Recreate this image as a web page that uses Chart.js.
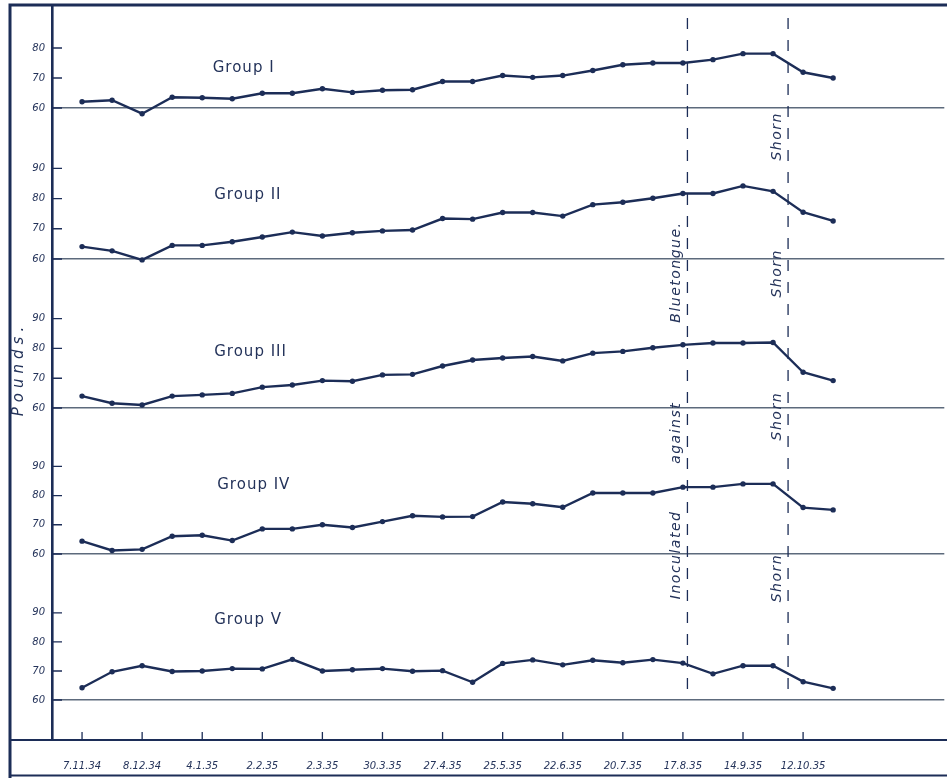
<!DOCTYPE html>
<html>
<head>
<meta charset="utf-8">
<title>Live weights of sheep, Groups I–V</title>
<script src="https://cdn.jsdelivr.net/npm/chart.js@4.4.1/dist/chart.umd.min.js"></script>
<style>
  html, body { margin: 0; padding: 0; background: #ffffff; }
  #wrap { width: 947px; height: 778px; position: relative; }
  canvas { display: block; }
</style>
</head>
<body>
<div id="wrap"><canvas id="weights" width="947" height="778"></canvas></div>
<script>
// Weighing dates printed under the x axis (every second weighing is labelled)
const tickDates = ['7.11.34', '8.12.34', '4.1.35', '2.2.35', '2.3.35', '30.3.35', '27.4.35',
                   '25.5.35', '22.6.35', '20.7.35', '17.8.35', '14.9.35', '12.10.35'];
const tickIndex = [0, 2, 4, 6, 8, 10, 12, 14, 16, 18, 20, 22, 24];

// Mean live weight (lb) at each of the 26 fortnightly weighings
const groupI   = [62.1, 62.6, 58.1, 63.6, 63.4, 63.1, 64.9, 64.9, 66.4, 65.2, 65.9, 66.1, 68.8,
                  68.8, 70.8, 70.2, 70.8, 72.5, 74.4, 75.0, 75.0, 76.1, 78.1, 78.1, 71.9, 70.0];
const groupII  = [64.1, 62.7, 59.7, 64.5, 64.5, 65.7, 67.3, 68.9, 67.6, 68.7, 69.3, 69.6, 73.4,
                  73.2, 75.4, 75.4, 74.2, 78.0, 78.8, 80.1, 81.7, 81.7, 84.2, 82.4, 75.5, 72.6];
const groupIII = [64.0, 61.6, 61.0, 64.0, 64.4, 64.9, 67.0, 67.7, 69.2, 69.0, 71.1, 71.3, 74.1,
                  76.1, 76.8, 77.3, 75.8, 78.4, 79.0, 80.2, 81.2, 81.8, 81.8, 82.0, 72.0, 69.2];
const groupIV  = [64.4, 61.2, 61.6, 66.1, 66.4, 64.6, 68.6, 68.6, 70.0, 69.1, 71.1, 73.1, 72.7,
                  72.8, 77.8, 77.2, 76.0, 80.9, 80.9, 80.9, 82.9, 82.9, 84.0, 84.0, 75.9, 75.1];
const groupV   = [64.2, 69.7, 71.8, 69.8, 70.0, 70.8, 70.7, 74.0, 70.0, 70.4, 70.8, 69.9, 70.1,
                  66.1, 72.6, 73.8, 72.1, 73.7, 72.8, 73.9, 72.7, 69.0, 71.8, 71.8, 66.3, 64.0];

// Pound ticks on each panel's axis
const ticksGroupI = [60, 70, 80];
const ticksOther  = [60, 70, 80, 90];

const groupNames = ['Group I', 'Group II', 'Group III', 'Group IV', 'Group V'];

// Events marked by vertical dashed lines (position in weighing index)
const inoculationAt = 20.15;
const shearingAt = 23.5;

const INK = '#1c2d57';
const TEXT = '#24335a';
const BASE = '#5d6a7c';

const panels = [
  { id: 'g1', values: groupI,   ticks: ticksGroupI, min: 60, max: 94.3, h: 103, order: 5, label: { x: 4.35, y: 73.3 } },
  { id: 'g2', values: groupII,  ticks: ticksOther,  min: 60, max: 110,  h: 151, order: 4, label: { x: 4.4,  y: 81.2 } },
  { id: 'g3', values: groupIII, ticks: ticksOther,  min: 60, max: 110,  h: 149, order: 3, label: { x: 4.4,  y: 78.9 } },
  { id: 'g4', values: groupIV,  ticks: ticksOther,  min: 60, max: 110,  h: 146, order: 2, label: { x: 4.5,  y: 83.5 } },
  { id: 'g5', values: groupV,   ticks: ticksOther,  min: 46.2, max: 110.3, h: 186, order: 1, label: { x: 4.4, y: 87.6 } }
];

// Handwritten notes beside the dashed lines: [text, line position, axis, value]
const notes = [
  ['Bluetongue.', inoculationAt, 'g3', 105.6],
  ['against',     inoculationAt, 'g4', 101.5],
  ['Inoculated',  inoculationAt, 'g5', 110.0],
  ['Shorn', shearingAt, 'g2', 100.6],
  ['Shorn', shearingAt, 'g3', 105.2],
  ['Shorn', shearingAt, 'g4', 107.2],
  ['Shorn', shearingAt, 'g5', 102.0]
];

const italic = size => ({ family: 'DejaVu Sans', style: 'italic', size: size });

// Scale boxes must not ask the layout for extra room around their end labels
function noEdgePadding(s) {
  s.paddingTop = 0; s.paddingBottom = 0; s.paddingLeft = 0; s.paddingRight = 0;
}

function panelAxis(p) {
  return {
    type: 'linear',
    position: 'left',
    stack: 'groups',
    stackWeight: p.h,
    weight: p.order,
    min: p.min,
    max: p.max,
    afterBuildTicks: s => { s.ticks = p.ticks.map(v => ({ value: v })); },
    afterFit: s => { s.width = 52; noEdgePadding(s); },
    ticks: { font: italic(10), color: TEXT, padding: 7, autoSkip: false },
    grid: {
      drawTicks: false,
      lineWidth: 1.6,
      color: c => (c.tick && c.tick.value === 60) ? BASE : 'rgba(0,0,0,0)'
    },
    border: { display: true, color: INK, width: 2.6 }
  };
}

const scales = {
  x: {
    type: 'linear',
    position: 'bottom',
    min: -1,
    max: 28.7,
    afterBuildTicks: s => { s.ticks = tickIndex.map(v => ({ value: v })); },
    afterFit: s => { s.height = 38; noEdgePadding(s); },
    ticks: {
      callback: v => tickDates[tickIndex.indexOf(v)] || '',
      font: italic(10), color: TEXT, padding: 12, autoSkip: false, maxRotation: 0
    },
    grid: { display: false },
    border: { display: false }
  }
};
panels.forEach(p => { scales[p.id] = panelAxis(p); });

const datasets = panels.map((p, k) => ({
  label: groupNames[k],
  yAxisID: p.id,
  data: p.values.map((v, i) => ({ x: i, y: v })),
  clip: false,
  borderColor: INK,
  backgroundColor: INK,
  borderWidth: 2.4,
  pointRadius: 2.7,
  pointHoverRadius: 2.7,
  pointBorderWidth: 0,
  tension: 0
}));

// Frame, inward tick marks, event lines and hand lettering
const decorations = {
  id: 'decorations',
  afterDraw(chart) {
    const ctx = chart.ctx;
    const area = chart.chartArea;
    const xs = chart.scales.x;
    ctx.save();

    // outer frame and the x axis rule
    ctx.strokeStyle = INK;
    ctx.lineCap = 'butt';
    ctx.lineWidth = 3;
    ctx.beginPath();
    ctx.moveTo(10, 778); ctx.lineTo(10, 5); ctx.lineTo(947, 5);
    ctx.stroke();
    ctx.lineWidth = 2.2;
    ctx.beginPath();
    ctx.moveTo(10, area.bottom); ctx.lineTo(947, area.bottom);
    ctx.moveTo(10, 775.5); ctx.lineTo(947, 775.5);
    ctx.stroke();

    // x tick marks pointing up into the plot
    ctx.lineWidth = 1.3;
    ctx.beginPath();
    tickIndex.forEach(v => {
      const px = xs.getPixelForValue(v);
      ctx.moveTo(px, area.bottom); ctx.lineTo(px, area.bottom - 8);
    });
    ctx.stroke();

    // y tick marks pointing into each panel
    ctx.lineWidth = 1.4;
    ctx.beginPath();
    panels.forEach(p => {
      const ys = chart.scales[p.id];
      p.ticks.forEach(v => {
        const py = ys.getPixelForValue(v);
        ctx.moveTo(area.left, py); ctx.lineTo(area.left + 10, py);
      });
    });
    ctx.stroke();

    // dashed event lines
    const lineTop = area.top + 13;
    const lineBottom = chart.scales.g5.getPixelForValue(60) - 2;
    ctx.setLineDash([11, 11]);
    ctx.lineWidth = 1.3;
    ctx.beginPath();
    [inoculationAt, shearingAt].forEach(v => {
      const px = xs.getPixelForValue(v);
      ctx.moveTo(px, lineTop); ctx.lineTo(px, lineBottom);
    });
    ctx.stroke();
    ctx.setLineDash([]);

    // group names
    ctx.fillStyle = TEXT;
    ctx.font = '15px "DejaVu Sans"';
    ctx.textAlign = 'left';
    ctx.textBaseline = 'middle';
    ctx.letterSpacing = '1px';
    panels.forEach((p, k) => {
      ctx.fillText(groupNames[k], xs.getPixelForValue(p.label.x), chart.scales[p.id].getPixelForValue(p.label.y));
    });

    // notes written up the dashed lines
    ctx.font = 'italic 14px "DejaVu Sans"';
    ctx.textAlign = 'center';
    ctx.letterSpacing = '1.5px';
    notes.forEach(([text, at, axis, value]) => {
      ctx.save();
      ctx.translate(xs.getPixelForValue(at) - 11, chart.scales[axis].getPixelForValue(value));
      ctx.rotate(-Math.PI / 2);
      ctx.fillText(text, 0, 0);
      ctx.restore();
    });

    // axis title
    ctx.save();
    ctx.font = 'italic 15px "DejaVu Sans"';
    ctx.letterSpacing = '5px';
    ctx.translate(19, 369);
    ctx.rotate(-Math.PI / 2);
    ctx.fillText('Pounds.', 0, 0);
    ctx.restore();

    ctx.restore();
  }
};

new Chart(document.getElementById('weights'), {
  type: 'line',
  data: { datasets },
  options: {
    responsive: false,
    animation: false,
    devicePixelRatio: 1,
    layout: { padding: { left: 0, right: -4, top: 5, bottom: 0 } },
    plugins: { legend: { display: false }, tooltip: { enabled: false } },
    scales
  },
  plugins: [decorations]
});
</script>
</body>
</html>
